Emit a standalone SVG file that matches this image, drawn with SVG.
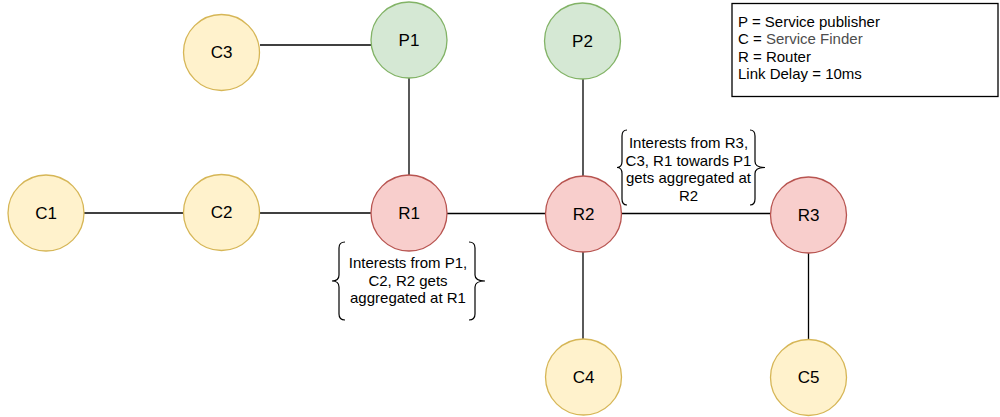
<svg xmlns="http://www.w3.org/2000/svg" width="1000" height="417" viewBox="0 0 1000 417">
  <style>
    .edge { stroke: #000; stroke-width: 1.3; fill: none; }
    .node circle { stroke-width: 1.3; }
    .finder circle { fill: #fff2cc; stroke: #d6b656; }
    .publisher circle { fill: #d5e8d4; stroke: #82b366; }
    .router circle { fill: #f8cecc; stroke: #b85450; }
    .label { font-family: "Liberation Sans", Arial, sans-serif; font-size: 17px; fill: #000; text-anchor: middle; dominant-baseline: central; }
    .note { font-family: "Liberation Sans", Arial, sans-serif; font-size: 15px; fill: #000; text-anchor: middle; }
    .brace { stroke: #000; stroke-width: 1.2; fill: none; }
    .legend-box { fill: #fff; stroke: #000; stroke-width: 1.3; }
    .legend { font-family: "Liberation Sans", Arial, sans-serif; font-size: 15px; fill: #000; }
  </style>

  <!-- links -->
  <g id="connectors">
    <line class="edge" x1="260" y1="45" x2="371" y2="45"/>
    <line class="edge" x1="409" y1="78" x2="409" y2="175"/>
    <line class="edge" x1="583" y1="79" x2="583" y2="176"/>
    <line class="edge" x1="84" y1="213" x2="183" y2="213"/>
    <line class="edge" x1="260" y1="213" x2="371" y2="213"/>
    <line class="edge" x1="447" y1="213.5" x2="546" y2="213.5"/>
    <line class="edge" x1="621" y1="213.5" x2="771" y2="213.5"/>
    <line class="edge" x1="583" y1="252" x2="583" y2="339"/>
    <line class="edge" x1="808.5" y1="253" x2="808.5" y2="340"/>
  </g>

  <!-- nodes -->
  <g id="C3" class="node finder"><circle cx="221.5" cy="52.5" r="38"/><text class="label" x="221.5" y="52.5">C3</text></g>
  <g id="P1" class="node publisher"><circle cx="409" cy="40" r="38"/><text class="label" x="409" y="40">P1</text></g>
  <g id="P2" class="node publisher"><circle cx="582.5" cy="41" r="38"/><text class="label" x="582.5" y="41">P2</text></g>
  <g id="C1" class="node finder"><circle cx="46" cy="213" r="38"/><text class="label" x="46" y="213">C1</text></g>
  <g id="C2" class="node finder"><circle cx="221.5" cy="212.5" r="38"/><text class="label" x="221.5" y="212.5">C2</text></g>
  <g id="R1" class="node router"><circle cx="409" cy="213" r="38"/><text class="label" x="409" y="213">R1</text></g>
  <g id="R2" class="node router"><circle cx="583.5" cy="214" r="38"/><text class="label" x="583.5" y="214">R2</text></g>
  <g id="R3" class="node router"><circle cx="808.5" cy="215" r="38"/><text class="label" x="808.5" y="215">R3</text></g>
  <g id="C4" class="node finder"><circle cx="583.5" cy="377" r="38"/><text class="label" x="583.5" y="377">C4</text></g>
  <g id="C5" class="node finder"><circle cx="808.5" cy="377.5" r="38"/><text class="label" x="808.5" y="377.5">C5</text></g>

  <!-- aggregation note at R1 -->
  <g id="note-R1">
    <path class="brace" d="M345 242 Q339 242 339 248 L339 275 Q339 281 332 281 Q339 281 339 287 L339 314 Q339 320 345 320"/>
    <path class="brace" d="M469 242 Q475 242 475 248 L475 275 Q475 281 485 281 Q475 281 475 287 L475 314 Q475 320 469 320"/>
    <text class="note" x="408" y="268">Interests from P1,</text>
    <text class="note" x="408" y="285.5">C2, R2 gets</text>
    <text class="note" x="408" y="303">aggregated at R1</text>
  </g>

  <!-- aggregation note at R2 -->
  <g id="note-R2">
    <path class="brace" d="M627 130 Q622 130 622 136 L622 161.5 Q622 167.5 617 167.5 Q622 167.5 622 173.5 L622 199 Q622 205 627 205"/>
    <path class="brace" d="M750 130 Q755 130 755 136 L755 161.5 Q755 167.5 765 167.5 Q755 167.5 755 173.5 L755 199 Q755 205 750 205"/>
    <text class="note" x="688.5" y="148">Interests from R3,</text>
    <text class="note" x="688.5" y="165.5">C3, R1 towards P1</text>
    <text class="note" x="688.5" y="183">gets aggregated at</text>
    <text class="note" x="688.5" y="200.5">R2</text>
  </g>

  <!-- legend -->
  <g id="legend">
    <rect class="legend-box" x="732" y="3.5" width="266" height="93"/>
    <text class="legend" x="738" y="26.5">P = Service publisher</text>
    <text class="legend" x="738" y="44">C = <tspan fill="#4d4d4d">Service Finder</tspan></text>
    <text class="legend" x="738" y="61.5">R = Router</text>
    <text class="legend" x="738" y="79">Link Delay = 10ms</text>
  </g>
</svg>
